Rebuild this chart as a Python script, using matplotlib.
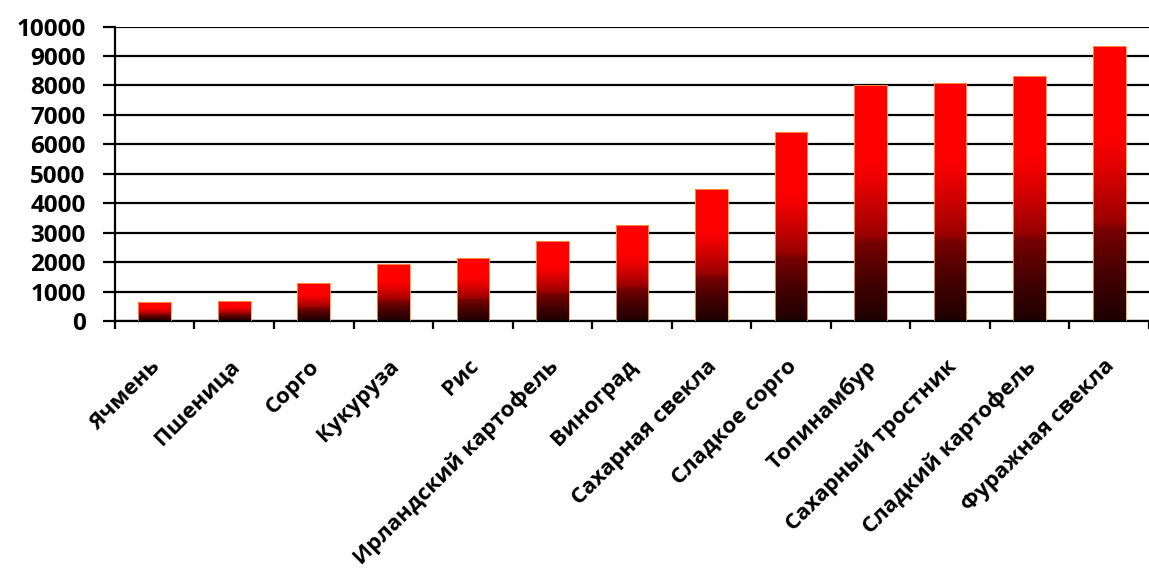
import numpy as np
import matplotlib.pyplot as plt
from matplotlib.colors import LinearSegmentedColormap
from matplotlib import transforms

crops = ["Ячмень", "Пшеница", "Сорго", "Кукуруза", "Рис",
         "Ирландский картофель", "Виноград", "Сахарная свекла",
         "Сладкое сорго", "Топинамбур", "Сахарный тростник",
         "Сладкий картофель", "Фуражная свекла"]
values = [630, 680, 1300, 1950, 2150, 2730, 3270, 4470,
          6430, 8000, 8100, 8330, 9340]
y_ticks = list(range(0, 10001, 1000))

plt.rcParams['font.family'] = ['Open Sans', 'DejaVu Sans']
plt.rcParams['font.weight'] = 'bold'

fig = plt.figure(figsize=(11.49, 5.79), dpi=100)
ax = fig.add_axes([0.1, 0.4456, 0.9, 0.5085])

# red at the top fading to nearly black at the base
cmap = LinearSegmentedColormap.from_list(
    "redfade", [(0.0, "#1e0000"), (0.15, "#400000"), (0.33, "#760000"),
                (0.36, "#9a0000"), (0.5, "#cc0000"), (0.62, "#f20000"),
                (0.7, "#ff0000"), (1.0, "#ff0000")])

x = np.arange(len(crops))
bars = ax.bar(x, values, width=0.41, color="none",
              edgecolor="#ffa040", linewidth=0.6, zorder=3)
grad = np.linspace(0, 1, 256).reshape(-1, 1)
for b in bars:
    x0, w, h = b.get_x(), b.get_width(), b.get_height()
    im = ax.imshow(grad, cmap=cmap, origin="lower", aspect="auto",
                   extent=[x0, x0 + w, 0, h], zorder=2)
    im.set_clip_path(b)

ax.set_xlim(-0.5, len(crops) - 0.5)
ax.set_ylim(0, 10000)
ax.set_yticks(y_ticks)
ax.yaxis.grid(True, color="black", linewidth=1.6)
ax.set_axisbelow(True)

for s in ["top", "right"]:
    ax.spines[s].set_visible(False)
ax.spines["left"].set_linewidth(1.6)
ax.spines["bottom"].set_linewidth(1.6)

ax.tick_params(axis="y", length=9, width=1.6, labelsize=17.5, pad=12)
ax.set_xticks(x)
ax.set_xticks(np.arange(len(crops) + 1) - 0.5, minor=True)
ax.tick_params(axis="x", which="major", length=0, pad=25)
ax.tick_params(axis="x", which="minor", length=6, width=1.6, direction="out")
ax.set_xticklabels(crops, rotation=45, ha="right", rotation_mode="anchor",
                   fontsize=16, fontweight="bold")
shift = transforms.ScaledTranslation(-5 / 100, 0, fig.dpi_scale_trans)
for lbl in ax.get_xticklabels():
    lbl.set_transform(lbl.get_transform() + shift)
for lbl in ax.get_yticklabels():
    lbl.set_fontweight("bold")

fig.savefig("out.png", dpi=100)
